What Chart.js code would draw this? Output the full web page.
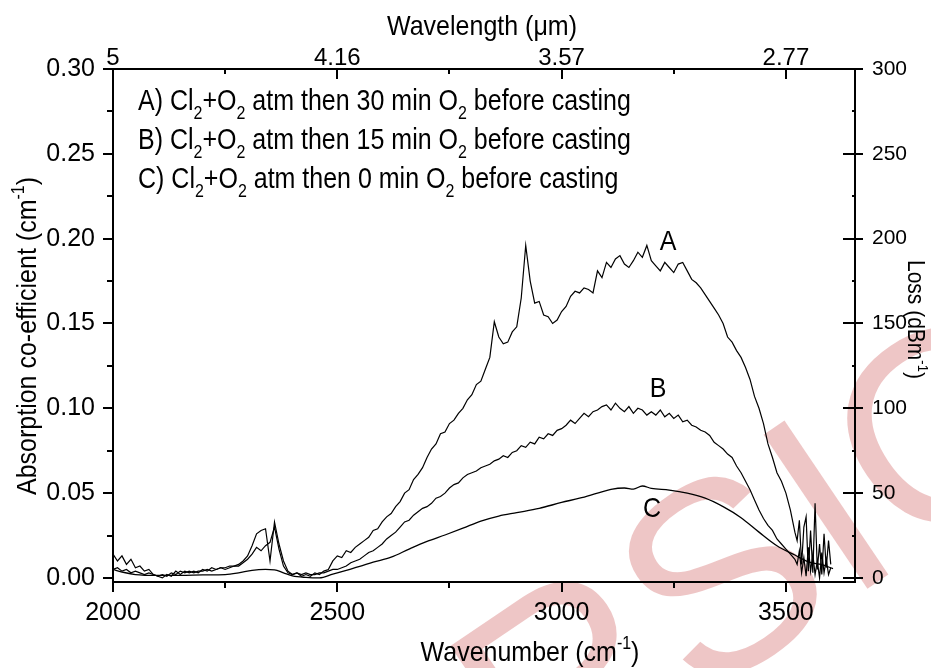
<!DOCTYPE html>
<html>
<head>
<meta charset="utf-8">
<script src="https://cdn.jsdelivr.net/npm/chart.js@4.4.1/dist/chart.umd.min.js"></script>
<style>
    html, body { margin: 0; padding: 0; background: #fff; }
    #chart { display: block; }
</style>
</head>
<body>
<canvas id="chart" width="931" height="668"></canvas>
<script>
// Wavenumber grid for curves A and B (cm-1)
const wnAB = [
    2000, 2010, 2020, 2030, 2040, 2050, 2060, 2070, 2080, 2090,
    2100, 2110, 2120, 2130, 2140, 2150, 2160, 2170, 2180, 2190,
    2200, 2210, 2220, 2230, 2240, 2250, 2260, 2270, 2280, 2290,
    2300, 2310, 2320, 2330, 2340, 2350, 2360, 2370, 2380, 2390,
    2400, 2410, 2420, 2430, 2440, 2450, 2460, 2470, 2480, 2490,
    2500, 2510, 2520, 2530, 2540, 2550, 2560, 2570, 2580, 2590,
    2600, 2610, 2620, 2630, 2640, 2650, 2660, 2670, 2680, 2690,
    2700, 2710, 2720, 2730, 2740, 2750, 2760, 2770, 2780, 2790,
    2800, 2810, 2820, 2830, 2840, 2850, 2860, 2870, 2880, 2890,
    2900, 2910, 2920, 2930, 2940, 2950, 2960, 2970, 2980, 2990,
    3000, 3010, 3020, 3030, 3040, 3050, 3060, 3070, 3080, 3090,
    3100, 3110, 3120, 3130, 3140, 3150, 3160, 3170, 3180, 3190,
    3200, 3210, 3220, 3230, 3240, 3250, 3260, 3270, 3280, 3290,
    3300, 3310, 3320, 3330, 3340, 3350, 3360, 3370, 3380, 3390,
    3400, 3410, 3420, 3430, 3440, 3450, 3460, 3470, 3480, 3490,
    3500, 3510, 3520,
    3525, 3530, 3535, 3540, 3545, 3550, 3555, 3560, 3565, 3570, 3575, 3580, 3585, 3590, 3595, 3600
];

// A) 30 min O2
const absA = [
    0.014, 0.010, 0.013, 0.008, 0.011, 0.006, 0.007, 0.004, 0.005, 0.002,
    0.001, 0.000, 0.002, 0.001, 0.004, 0.002, 0.004, 0.003, 0.004, 0.003,
    0.005, 0.004, 0.006, 0.005, 0.006, 0.006, 0.007, 0.007, 0.008, 0.010,
    0.013, 0.019, 0.026, 0.028, 0.029, 0.010, 0.033, 0.020, 0.010, 0.004,
    0.002, 0.003, 0.001, 0.002, 0.001, 0.003, 0.002, 0.004, 0.005, 0.010,
    0.013, 0.012, 0.016, 0.015, 0.018, 0.020, 0.022, 0.024, 0.028, 0.029,
    0.033, 0.036, 0.038, 0.042, 0.045, 0.050, 0.052, 0.058, 0.061, 0.065,
    0.071, 0.076, 0.079, 0.085, 0.086, 0.091, 0.093, 0.097, 0.100, 0.105,
    0.108, 0.114, 0.116, 0.123, 0.130, 0.151, 0.142, 0.138, 0.139, 0.145,
    0.148, 0.165, 0.196, 0.175, 0.162, 0.163, 0.155, 0.154, 0.150, 0.152,
    0.157, 0.160, 0.166, 0.169, 0.168, 0.171, 0.170, 0.168, 0.181, 0.177,
    0.186, 0.183, 0.188, 0.190, 0.185, 0.183, 0.187, 0.192, 0.189, 0.196,
    0.187, 0.184, 0.181, 0.186, 0.183, 0.180, 0.185, 0.186, 0.181, 0.176,
    0.174, 0.171, 0.167, 0.163, 0.159, 0.155, 0.150, 0.142, 0.139, 0.134,
    0.130, 0.124, 0.117, 0.107, 0.100, 0.091, 0.079, 0.071, 0.062, 0.057,
    0.050, 0.040, 0.027,
    0.022, 0.034, 0.008, 0.030, 0.036, 0.004, 0.028, 0.003, 0.044, 0.005, 0.020, 0.002, 0.026, 0.006, 0.022, 0.008
];

// B) 15 min O2
const absB = [
    0.005, 0.006, 0.004, 0.005, 0.003, 0.004, 0.003, 0.002, 0.003, 0.002,
    0.001, 0.002, 0.001, 0.003, 0.002, 0.004, 0.003, 0.004, 0.003, 0.004,
    0.004, 0.005, 0.004, 0.005, 0.006, 0.005, 0.006, 0.007, 0.007, 0.009,
    0.011, 0.014, 0.018, 0.016, 0.019, 0.021, 0.030, 0.017, 0.007, 0.003,
    0.002, 0.003, 0.002, 0.003, 0.002, 0.002, 0.003, 0.003, 0.004, 0.005,
    0.005, 0.006, 0.007, 0.009, 0.010, 0.011, 0.013, 0.015, 0.016, 0.018,
    0.020, 0.023, 0.025, 0.027, 0.030, 0.033, 0.034, 0.037, 0.039, 0.041,
    0.042, 0.044, 0.047, 0.048, 0.050, 0.053, 0.055, 0.056, 0.059, 0.061,
    0.062, 0.063, 0.065, 0.066, 0.067, 0.069, 0.070, 0.072, 0.071, 0.074,
    0.075, 0.078, 0.077, 0.080, 0.079, 0.083, 0.082, 0.085, 0.084, 0.087,
    0.088, 0.090, 0.093, 0.091, 0.094, 0.097, 0.095, 0.098, 0.099, 0.101,
    0.102, 0.099, 0.103, 0.100, 0.098, 0.101, 0.097, 0.100, 0.099, 0.096,
    0.098, 0.096, 0.099, 0.095, 0.097, 0.094, 0.096, 0.092, 0.093, 0.090,
    0.089, 0.087, 0.086, 0.084, 0.080, 0.078, 0.076, 0.073, 0.071, 0.066,
    0.062, 0.057, 0.052, 0.046, 0.040, 0.035, 0.031, 0.028, 0.023, 0.020,
    0.017, 0.014, 0.011,
    0.008, 0.016, 0.003, 0.012, 0.001, 0.018, 0.004, 0.014, 0.002, 0.010, 0.000, 0.015, 0.003, 0.011, 0.002, 0.006
];

// C) 0 min O2 (smooth curve)
const wnC = [
    2000, 2025, 2050, 2100, 2150, 2200, 2250, 2280, 2310, 2340,
    2360, 2380, 2400, 2430, 2460, 2490, 2520, 2550, 2580, 2620,
    2660, 2700, 2740, 2780, 2820, 2860, 2900, 2950, 3000, 3040,
    3080, 3110, 3140, 3160, 3180, 3200, 3240, 3280, 3320, 3360,
    3400, 3440, 3480, 3520, 3550, 3580, 3605
];
const absC = [
    0.0050, 0.0032, 0.0020, 0.0015, 0.0015, 0.0018, 0.0020, 0.0030, 0.0045, 0.0050,
    0.0048, 0.0030, 0.0012, 0.0003, 0.0000, 0.0022, 0.0045, 0.0068, 0.0093, 0.0122,
    0.0170, 0.0215, 0.0253, 0.0293, 0.0335, 0.0365, 0.0385, 0.0410, 0.0445, 0.0470,
    0.0500, 0.0522, 0.0530, 0.0524, 0.0542, 0.0528, 0.0518, 0.0500, 0.0470, 0.0420,
    0.0355, 0.0270, 0.0190, 0.0135, 0.0095, 0.0078, 0.0055
];

// Axis ticks and labels
const wnTicks = [2000, 2250, 2500, 2750, 3000, 3250, 3500];
const wnLabels = ['2000', '', '2500', '', '3000', '', '3500'];
const lambdaLabels = ['5', '', '4.16', '', '3.57', '', '2.77'];
const absTicks = [0, 0.025, 0.05, 0.075, 0.1, 0.125, 0.15, 0.175, 0.2, 0.225, 0.25, 0.275, 0.3];
const absLabels = ['0.00', '', '0.05', '', '0.10', '', '0.15', '', '0.20', '', '0.25', '', '0.30'];
const lossTicks = [0, 25, 50, 75, 100, 125, 150, 175, 200, 225, 250, 275, 300];
const lossLabels = ['0', '', '50', '', '100', '', '150', '', '200', '', '250', '', '300'];

const FONT = "'Liberation Sans', Arial, Helvetica, sans-serif";

// texto com sub/sobrescrito
function richText(ctx, parts, x, y, size, stretch, align) {
    const small = Math.round(size * 0.62);
    let w = 0;
    parts.forEach(p => {
        ctx.font = (p[1] ? small : size) + 'px ' + FONT;
        w += ctx.measureText(p[0]).width;
    });
    ctx.save();
    ctx.translate(x, y);
    ctx.scale(1, stretch);
    ctx.fillStyle = '#000';
    ctx.textBaseline = 'alphabetic';
    ctx.textAlign = 'left';
    let cx = align === 'center' ? -w / 2 : 0;
    parts.forEach(p => {
        ctx.font = (p[1] ? small : size) + 'px ' + FONT;
        const dy = p[1] === 'sub' ? size * 0.3 : (p[1] === 'sup' ? -size * 0.42 : 0);
        ctx.fillText(p[0], cx, dy);
        cx += ctx.measureText(p[0]).width;
    });
    ctx.restore();
}

const watermark = {
    id: 'watermark',
    beforeDraw(chart) {
        const ctx = chart.ctx;
        ctx.save();
        ctx.translate(741, 674);
        ctx.rotate(-34 * Math.PI / 180);
        ctx.font = '270px ' + FONT;
        ctx.fillStyle = 'rgba(214, 120, 120, 0.42)';
        ctx.textAlign = 'center';
        ctx.textBaseline = 'alphabetic';
        ctx.fillText('VERSION', 0, 0);
        ctx.restore();
    }
};

const tickMarks = {
    id: 'tickMarks',
    afterDraw(chart) {
        const ctx = chart.ctx;
        const s = chart.scales;
        const a = chart.chartArea;
        ctx.save();
        ctx.strokeStyle = '#000';
        ctx.lineWidth = 2;
        ctx.beginPath();
        wnTicks.forEach((v, i) => {
            const px = Math.round(s.x.getPixelForValue(v));
            const major = wnLabels[i] !== '';
            ctx.moveTo(px, a.bottom);
            ctx.lineTo(px, a.bottom + (major ? 10 : 6));
            ctx.moveTo(px, a.top);
            ctx.lineTo(px, a.top + (major ? 10 : 5));
        });
        absTicks.forEach((v, i) => {
            const py = Math.round(s.y.getPixelForValue(v));
            const major = absLabels[i] !== '';
            ctx.moveTo(a.left, py);
            ctx.lineTo(a.left - (major ? 10 : 6), py);
        });
        lossTicks.forEach((v, i) => {
            const py = Math.round(s.loss.getPixelForValue(v));
            const major = lossLabels[i] !== '';
            ctx.moveTo(a.right + (major ? 8 : 0), py);
            ctx.lineTo(a.right - (major ? 12 : 3), py);
        });
        ctx.stroke();
        ctx.restore();
    }
};

const annotations = {
    id: 'annotations',
    afterDraw(chart) {
        const ctx = chart.ctx;
        // titulos dos eixos
        richText(ctx, [['Wavelength (\u03bcm)']], 482, 35, 25, 1.12, 'center');
        richText(ctx, [['Wavenumber (cm'], ['-1', 'sup'], [')']], 530, 661, 25, 1.12, 'center');

        ctx.save();
        ctx.translate(36, 336);
        ctx.rotate(-Math.PI / 2);
        richText(ctx, [['Absorption co-efficient (cm'], ['-1', 'sup'], [')']], 0, 0, 25, 1.12, 'center');
        ctx.restore();

        ctx.save();
        ctx.translate(908, 260);
        ctx.rotate(Math.PI / 2);
        richText(ctx, [['Loss (dBm'], ['-1', 'sup'], [')']], 0, 0, 21, 1.12, 'left');
        ctx.restore();

        // legenda
        richText(ctx, [['A) Cl'], ['2', 'sub'], ['+O'], ['2', 'sub'], [' atm then 30 min O'], ['2', 'sub'], [' before casting']], 138, 110, 25, 1.2, 'left');
        richText(ctx, [['B) Cl'], ['2', 'sub'], ['+O'], ['2', 'sub'], [' atm then 15 min O'], ['2', 'sub'], [' before casting']], 138, 149, 25, 1.2, 'left');
        richText(ctx, [['C) Cl'], ['2', 'sub'], ['+O'], ['2', 'sub'], [' atm then 0 min O'], ['2', 'sub'], [' before casting']], 138, 188, 25, 1.2, 'left');

        // rotulos das curvas
        richText(ctx, [['A']], 668, 250, 25, 1.12, 'center');
        richText(ctx, [['B']], 658, 397, 25, 1.12, 'center');
        richText(ctx, [['C']], 652, 517, 25, 1.12, 'center');
    }
};

function setTicks(values) {
    return scale => { scale.ticks = values.map(v => ({ value: v })); };
}

const tickFont = { family: FONT, size: 25 };

new Chart(document.getElementById('chart'), {
    type: 'line',
    data: {
        datasets: [
            {
                label: 'C',
                data: wnC.map((w, i) => ({ x: w, y: absC[i] })),
                borderColor: '#000',
                borderWidth: 1.3,
                pointRadius: 0,
                tension: 0.4,
                cubicInterpolationMode: 'monotone',
                xAxisID: 'x',
                yAxisID: 'y'
            },
            {
                label: 'B',
                data: wnAB.map((w, i) => ({ x: w, y: absB[i] })),
                borderColor: '#000',
                borderWidth: 1.2,
                pointRadius: 0,
                tension: 0,
                xAxisID: 'x',
                yAxisID: 'y'
            },
            {
                label: 'A',
                data: wnAB.map((w, i) => ({ x: w, y: absA[i] })),
                borderColor: '#000',
                borderWidth: 1.2,
                pointRadius: 0,
                tension: 0,
                xAxisID: 'x',
                yAxisID: 'y'
            }
        ]
    },
    options: {
        responsive: false,
        animation: false,
        layout: { padding: 0 },
        plugins: {
            legend: { display: false },
            tooltip: { enabled: false }
        },
        scales: {
            x: {
                type: 'linear',
                position: 'bottom',
                min: 2000,
                max: 3654,
                afterBuildTicks: setTicks(wnTicks),
                afterFit: s => { s.height = 86; },
                grid: { display: false, drawTicks: false },
                border: { display: true, color: '#000', width: 2 },
                ticks: {
                    autoSkip: false, maxRotation: 0, padding: 16, color: '#000', font: tickFont,
                    callback: v => wnLabels[wnTicks.indexOf(v)]
                }
            },
            xTop: {
                type: 'linear',
                position: 'top',
                min: 2000,
                max: 3654,
                afterBuildTicks: setTicks(wnTicks),
                afterFit: s => { s.height = 69; },
                grid: { display: false, drawTicks: false },
                border: { display: true, color: '#000', width: 2 },
                ticks: {
                    autoSkip: false, maxRotation: 0, padding: -4, color: '#000', font: { family: FONT, size: 24 },
                    callback: v => lambdaLabels[wnTicks.indexOf(v)]
                }
            },
            y: {
                type: 'linear',
                position: 'left',
                min: -0.0024,
                max: 0.30,
                afterBuildTicks: setTicks(absTicks),
                afterFit: s => { s.width = 113; },
                grid: { display: false, drawTicks: false },
                border: { display: true, color: '#000', width: 2 },
                ticks: {
                    autoSkip: false, padding: 18, color: '#000', font: tickFont,
                    callback: v => absLabels[absTicks.indexOf(v)]
                }
            },
            loss: {
                type: 'linear',
                position: 'right',
                min: -2.4,
                max: 300,
                afterBuildTicks: setTicks(lossTicks),
                afterFit: s => { s.width = 76; },
                grid: { display: false, drawTicks: false },
                border: { display: true, color: '#000', width: 2 },
                ticks: {
                    autoSkip: false, padding: 17, color: '#000', font: { family: FONT, size: 21 },
                    callback: v => lossLabels[lossTicks.indexOf(v)]
                }
            }
        }
    },
    plugins: [watermark, tickMarks, annotations]
});
</script>
</body>
</html>
